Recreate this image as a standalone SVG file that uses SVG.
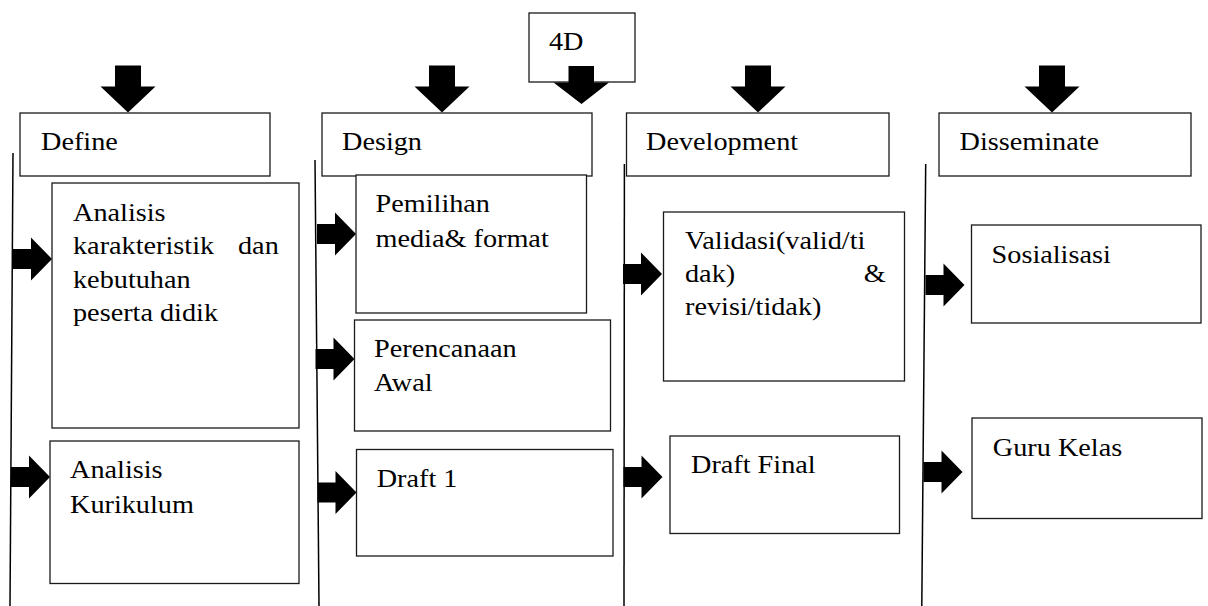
<svg xmlns="http://www.w3.org/2000/svg" width="1208" height="606" viewBox="0 0 1208 606" font-family="Liberation Serif, serif">
<style>
  .box { fill: #ffffff; stroke: #1a1a1a; stroke-width: 1.3; }
  .lane { stroke: #000000; stroke-width: 1.5; fill: none; }
  .arr { fill: #000000; stroke: none; }
  .t { font-size: 25px; fill: #000000; }
</style>
<defs>
  <path id="rarrow" d="M0,-10 H18 V-21.5 L39,0 L18,21.5 V10 H0 Z"/>
  <path id="darrow" d="M-13,0 H13 V21 H27.5 L0,47 L-27.5,21 H-13 Z"/>
</defs>
<rect width="1208" height="606" fill="#ffffff"/>

<g id="connectors">
  <line class="lane" x1="13" y1="153" x2="10" y2="606"/>
  <line class="lane" x1="315" y1="160" x2="319" y2="606"/>
  <line class="lane" x1="624.4" y1="164" x2="624" y2="606"/>
  <line class="lane" x1="925.7" y1="164" x2="921.8" y2="606"/>
</g>

<g id="node-4d">
  <rect class="box" x="529" y="13" width="106" height="69"/>
  <text class="t" font-family="Liberation Serif" transform="translate(549,50) scale(1.13,1)">4D</text>
</g>

<g id="down-arrows">
  <use href="#darrow" class="arr" transform="translate(128,65.5)"/>
  <use href="#darrow" class="arr" transform="translate(442,65.5)"/>
  <use href="#darrow" class="arr" transform="translate(758,65.5)"/>
  <use href="#darrow" class="arr" transform="translate(1052,65.5)"/>
  <path class="arr" d="M568.5,66 H594 V82.5 H609 L581.5,104 L553.5,82.5 H568.5 Z"/>
</g>

<g id="node-define" font-family="Liberation Serif">
  <rect class="box" x="20" y="113" width="250" height="63"/>
  <text class="t" transform="translate(41,149.5) scale(1.13,1)">Define</text>
</g>
<g id="node-design" font-family="Liberation Serif">
  <rect class="box" x="322" y="113" width="270" height="63"/>
  <text class="t" transform="translate(342,150) scale(1.13,1)">Design</text>
</g>
<g id="node-development" font-family="Liberation Serif">
  <rect class="box" x="626.5" y="113" width="262.5" height="63"/>
  <text class="t" transform="translate(646,150) scale(1.13,1)">Development</text>
</g>
<g id="node-disseminate" font-family="Liberation Serif">
  <rect class="box" x="939" y="113" width="252" height="63"/>
  <text class="t" transform="translate(959.5,150) scale(1.13,1)">Disseminate</text>
</g>

<g id="node-analisis-karakteristik" font-family="Liberation Serif">
  <use href="#rarrow" class="arr" transform="translate(13,259)"/>
  <rect class="box" x="52" y="183" width="247" height="245"/>
  <text class="t" transform="translate(73,220.7) scale(1.13,1)">Analisis</text>
  <text class="t" transform="translate(73,254) scale(1.13,1)">karakteristik</text>
  <text class="t" transform="translate(238,254) scale(1.13,1)">dan</text>
  <text class="t" transform="translate(73,287.7) scale(1.13,1)">kebutuhan</text>
  <text class="t" transform="translate(73,321) scale(1.13,1)">peserta didik</text>
</g>
<g id="node-analisis-kurikulum" font-family="Liberation Serif">
  <use href="#rarrow" class="arr" transform="translate(11,477)"/>
  <rect class="box" x="50" y="441" width="249" height="142.5"/>
  <text class="t" transform="translate(70,478) scale(1.13,1)">Analisis</text>
  <text class="t" transform="translate(70,513) scale(1.13,1)">Kurikulum</text>
</g>

<g id="node-pemilihan" font-family="Liberation Serif">
  <use href="#rarrow" class="arr" transform="translate(317,234)"/>
  <rect class="box" x="356" y="175" width="230.5" height="138"/>
  <text class="t" transform="translate(375.5,212) scale(1.13,1)">Pemilihan</text>
  <text class="t" transform="translate(375.5,247) scale(1.13,1)">media&amp; format</text>
</g>
<g id="node-perencanaan" font-family="Liberation Serif">
  <use href="#rarrow" class="arr" transform="translate(315.5,359)"/>
  <rect class="box" x="354.5" y="320" width="256" height="111"/>
  <text class="t" transform="translate(374,357) scale(1.13,1)">Perencanaan</text>
  <text class="t" transform="translate(374,391) scale(1.13,1)">Awal</text>
</g>
<g id="node-draft1" font-family="Liberation Serif">
  <use href="#rarrow" class="arr" transform="translate(317.5,492.5)"/>
  <rect class="box" x="356.5" y="449.5" width="256.5" height="106.5"/>
  <text class="t" transform="translate(376.7,487) scale(1.13,1)">Draft 1</text>
</g>

<g id="node-validasi" font-family="Liberation Serif">
  <use href="#rarrow" class="arr" transform="translate(623,274)"/>
  <rect class="box" x="663.5" y="212" width="241" height="169"/>
  <text class="t" transform="translate(685,249) scale(1.13,1)">Validasi(valid/ti</text>
  <text class="t" transform="translate(685,282) scale(1.13,1)">dak)</text>
  <text class="t" transform="translate(863.7,282) scale(1.13,1)">&amp;</text>
  <text class="t" transform="translate(685,315) scale(1.13,1)">revisi/tidak)</text>
</g>
<g id="node-draft-final" font-family="Liberation Serif">
  <use href="#rarrow" class="arr" transform="translate(623.5,477)"/>
  <rect class="box" x="670" y="436" width="229.5" height="97.5"/>
  <text class="t" transform="translate(691,473) scale(1.13,1)">Draft Final</text>
</g>

<g id="node-sosialisasi" font-family="Liberation Serif">
  <use href="#rarrow" class="arr" transform="translate(925.5,285)"/>
  <rect class="box" x="971.5" y="225" width="229.5" height="98"/>
  <text class="t" transform="translate(991.6,262.6) scale(1.13,1)">Sosialisasi</text>
</g>
<g id="node-guru-kelas" font-family="Liberation Serif">
  <use href="#rarrow" class="arr" transform="translate(923.5,472)"/>
  <rect class="box" x="972" y="418" width="230" height="100.5"/>
  <text class="t" transform="translate(992.8,456) scale(1.13,1)">Guru Kelas</text>
</g>
</svg>
